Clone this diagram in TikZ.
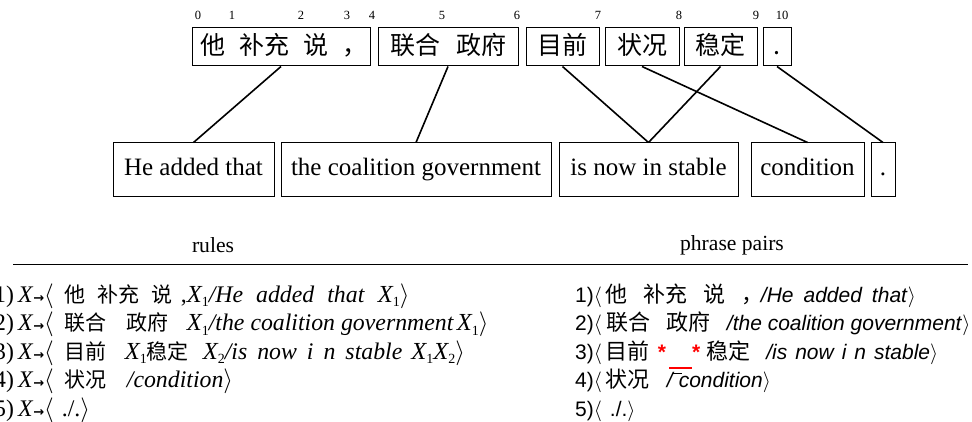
\documentclass[tikz,border=0pt]{standalone}
\usepackage{fontspec}
\setmainfont{Liberation Serif}
\newfontfamily\cjk{Noto Sans CJK SC}
\newfontfamily\rsans{Liberation Sans}
\newfontfamily\djv{DejaVu Sans}
\newcommand\Xs[1]{{\itshape\fontsize{24.5}{26}\selectfont X}\raisebox{-4.5pt}{\fontsize{14}{14}\selectfont #1}}
\newcommand\arr{{\djv\bfseries\fontsize{13}{15}\selectfont →}}
\newcommand\rast{\textcolor{red}{\rsans\bfseries *}}
\newcommand\lc{\cjk\fontsize{21}{24}\selectfont}
\newcommand\rc{\cjk\fontsize{22}{26}\selectfont}
\newcommand\gp[1]{\hspace{#1pt}}
\begin{document}
\begin{tikzpicture}[x=1pt,y=-1pt,
  tbox/.style={draw, line width=1pt, inner sep=0pt, minimum height=38pt,
    font=\cjk\fontsize{25}{28}\selectfont, text height=20pt, text depth=4pt},
  bbox/.style={draw, line width=1pt, inner sep=0pt, minimum height=54pt,
    font=\fontsize{25}{30}\selectfont, text height=17pt, text depth=6pt},
  idx/.style={font=\fontsize{12.5}{14}\selectfont, inner sep=0pt},
  link/.style={line width=1.6pt},
  head/.style={font=\fontsize{21.6}{26}\selectfont, inner sep=0pt},
  lline/.style={anchor=base west, inner sep=0pt, font=\fontsize{23.8}{26}\selectfont},
  rline/.style={anchor=base west, inner sep=0pt, font=\rsans\fontsize{21}{25}\selectfont}]
\useasboundingbox (0,0) rectangle (972,422);

% index numbers
\foreach \n/\x in {0/198,1/232,2/301,3/347,4/372,5/442,6/517,7/598,8/679,9/756,10/782}
  \node[idx] (n\n) at (\x,15) {\n};

% source boxes
\node[tbox, minimum width=178pt] (s1) at (281,47) {\gp{6}他\gp{14}补充\gp{14}说\gp{14}，\gp{-22}};
\node[tbox, minimum width=140pt] (s2) at (448,47) {联合\gp{16}政府};
\node[tbox, minimum width=73pt] (s3) at (562.5,47) {目前};
\node[tbox, minimum width=74pt] (s4) at (642,47) {状况};
\node[tbox, minimum width=73pt] (s5) at (720.5,47) {稳定};
\node[tbox, minimum width=28pt] (s6) at (777,47) {.};

% target boxes
\node[bbox, minimum width=161pt] (t1) at (193.5,170) {He added that};
\node[bbox, minimum width=270pt] (t2) at (416,170) {the coalition government};
\node[bbox, minimum width=179pt] (t3) at (648.5,170) {is now in stable};
\node[bbox, minimum width=113pt] (t4) at (807.5,170) {condition};
\node[bbox, minimum width=24pt] (t5) at (883,170) {.};

% alignment links
\draw[link] (s1.south) -- (t1.north);
\draw[link] (s2.south) -- (t2.north);
\draw[link] (s3.south) -- (t3.north);
\draw[link] (s5.south) -- (t3.north);
\draw[link] (s4.south) -- (t4.north);
\draw[link] (s6.south) -- (t5.north);

% headings
\node[head] (hr) at (213,245) {rules};
\node[head] (hp) at (732,245) {phrase pairs};
\coordinate (ra) at (13,264);
\coordinate (rb) at (968,264);
\draw[line width=1pt] (ra) -- (rb);

% rules
\node[lline] (l1) at (-6,302) {1)\gp{4}\textit{X}\arr$\langle$\gp{11}{\lc 他\gp{12}补充\gp{12}说\gp{8}},\Xs{1}\textit{/He\gp{13}added\gp{13}that}\gp{13}\Xs{1}$\rangle$};
\node[lline] (l2) at (-6,330.5) {2)\gp{4}\textit{X}\arr$\langle$\gp{11}{\lc 联合\gp{20}政府\gp{18}}\Xs{1}\textit{/the coalition government}\gp{3}\Xs{1}$\rangle$};
\node[lline] (l3) at (-6,359) {3)\gp{4}\textit{X}\arr$\langle$\gp{11}{\lc 目前\gp{18}}\Xs{1}{\lc 稳定\gp{14}}\Xs{2}\textit{/is\gp{10}now\gp{10}i\gp{10}n\gp{10}stable}\gp{9}\Xs{1}\Xs{2}$\rangle$};
\node[lline] (l4) at (-6,387.5) {4)\gp{4}\textit{X}\arr$\langle$\gp{11}{\lc 状况\gp{20}}\textit{/condition}$\rangle$};
\node[lline] (l5) at (-6,416) {5)\gp{4}\textit{X}\arr$\langle$\gp{8}./.$\rangle$};

% phrase pairs
\node[rline] (r1) at (575,302) {1)$\langle$\gp{4}{\rc 他\gp{16}补充\gp{16}说\gp{16}，}\gp{-3}\textit{/He\gp{10}added\gp{10}that}$\rangle$};
\node[rline] (r2) at (575,330.5) {2)$\langle$\gp{5}{\rc 联合\gp{16}政府\gp{16}}\textit{/the coalition government}$\rangle$};
\node[rline] (r3) at (575,359) {3)$\langle$\gp{4}{\rc 目前\gp{8}}\rast\gp{3}\textcolor{red}{\rule[-10pt]{23pt}{2pt}}\rast\gp{6}{\rc 稳定\gp{16}}\textit{/is\gp{8}now\gp{8}i\gp{8}n\gp{8}stable}$\rangle$};
\node[rline] (r4) at (575,387.5) {4)$\langle$\gp{4}{\rc 状况\gp{17}}\textit{/\gp{6}condition}$\rangle$};
\node[rline] (r5) at (575,416) {5)$\langle$\gp{8}./.$\rangle$};
\coordinate (oa) at (672,373);
\coordinate (ob) at (682,373);
\draw[line width=0.8pt] (oa) -- (ob);
\end{tikzpicture}
\end{document}
